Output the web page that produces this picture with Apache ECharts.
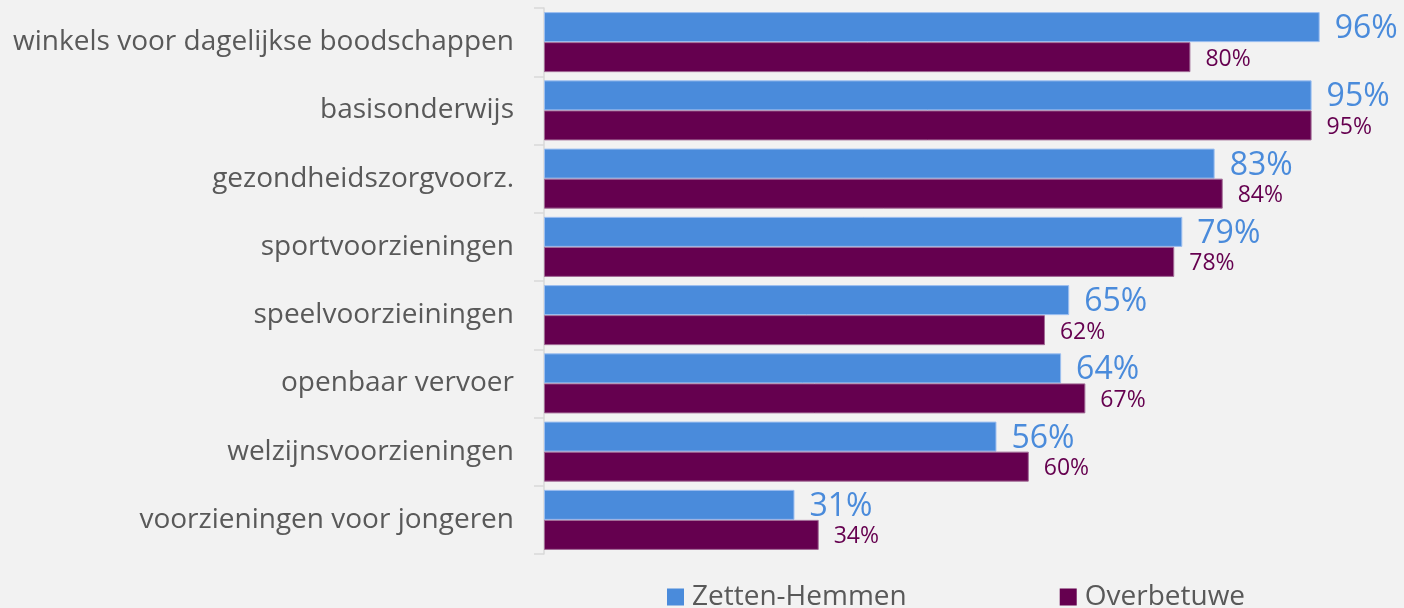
<!DOCTYPE html>
<html>
<head>
<meta charset="utf-8">
<script src="https://cdn.jsdelivr.net/npm/echarts@6/dist/echarts.min.js"></script>
<style>
  html, body { margin: 0; padding: 0; background: #f2f2f2; }
  #chart { width: 1404px; height: 608px; }
</style>
</head>
<body>
<div id="chart"></div>
<script>
var categories = [
    'winkels voor dagelijkse boodschappen',
    'basisonderwijs',
    'gezondheidszorgvoorz.',
    'sportvoorzieningen',
    'speelvoorzieiningen',
    'openbaar vervoer',
    'welzijnsvoorzieningen',
    'voorzieningen voor jongeren'
];
var zettenHemmen = [96, 95, 83, 79, 65, 64, 56, 31];
var overbetuwe = [80, 95, 84, 78, 62, 67, 60, 34];

var fontFamily = '"Open Sans", "Noto Sans", sans-serif';

var chart = echarts.init(document.getElementById('chart'));

chart.setOption({
    backgroundColor: '#f2f2f2',
    animation: false,
    textStyle: { fontFamily: fontFamily },
    grid: { left: 544, right: 52, top: 8, bottom: 54, containLabel: false },
    legend: {
        left: 662,
        top: 578,
        itemWidth: 17,
        itemHeight: 17,
        itemGap: 153,
        icon: 'rect',
        itemStyle: { borderWidth: 0 },
        textStyle: { fontSize: 28, color: '#595959', fontFamily: fontFamily, padding: [0, 0, 0, 3] },
        data: ['Zetten-Hemmen', 'Overbetuwe']
    },
    xAxis: {
        type: 'value',
        min: 0,
        max: 100,
        show: false
    },
    yAxis: {
        type: 'category',
        inverse: true,
        data: categories,
        axisLine: { show: true, lineStyle: { color: '#d9d9d9', width: 1.5 } },
        axisTick: { show: true, length: 10, lineStyle: { color: '#d9d9d9', width: 1.5 } },
        axisLabel: { fontSize: 28, color: '#595959', margin: 30, fontFamily: fontFamily },
        splitLine: { show: false }
    },
    series: [
        {
            name: 'Zetten-Hemmen',
            type: 'bar',
            data: zettenHemmen,
            barGap: '0%',
            barCategoryGap: '12%',
            itemStyle: { color: '#4a8bdb', borderColor: '#9dbff0', borderWidth: 1 },
            label: {
                show: true,
                position: 'right',
                distance: 15,
                offset: [0, 2],
                formatter: '{c}%',
                fontSize: 32,
                color: '#4a8bdb',
                fontFamily: fontFamily
            }
        },
        {
            name: 'Overbetuwe',
            type: 'bar',
            data: overbetuwe,
            itemStyle: { color: '#65004f', borderColor: '#a26b96', borderWidth: 1 },
            label: {
                show: true,
                position: 'right',
                distance: 15,
                offset: [0, 2],
                formatter: '{c}%',
                fontSize: 23,
                color: '#65004f',
                fontFamily: fontFamily
            }
        }
    ]
});
</script>
</body>
</html>
